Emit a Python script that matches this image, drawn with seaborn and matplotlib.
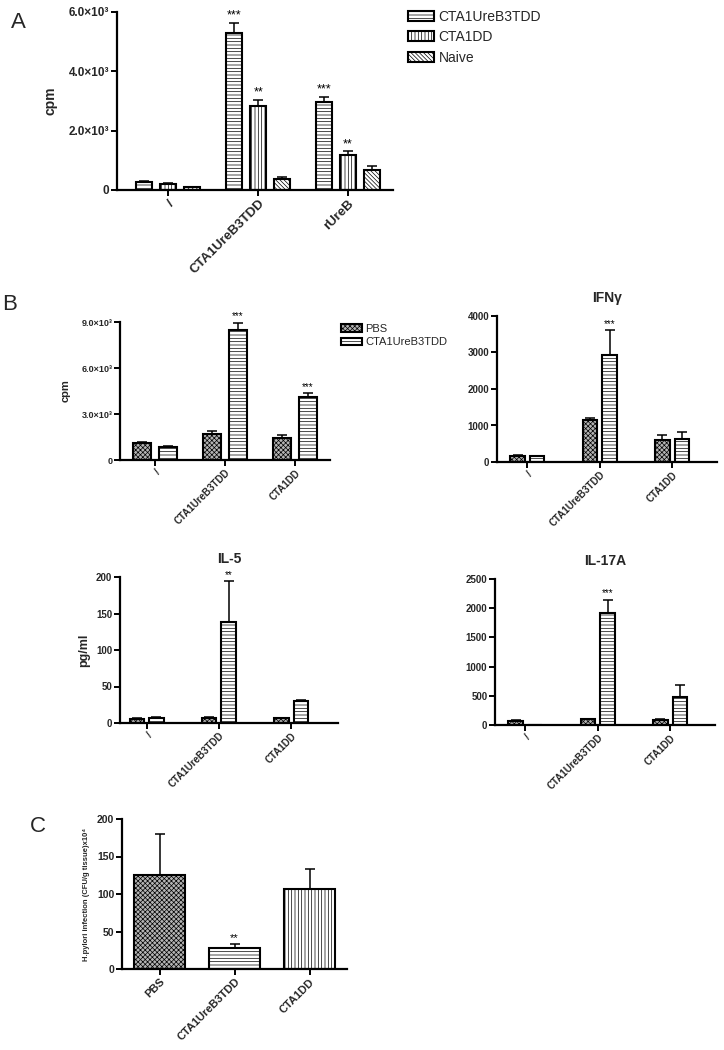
import numpy as np
import pandas as pd
import matplotlib
matplotlib.use("Agg")
import matplotlib.pyplot as plt
import seaborn as sns
from matplotlib.patches import Patch

# ---------------- data ----------------
# Panel A
A_groups = ["/", "CTA1UreB3TDD", "rUreB"]
A_series = ["CTA1UreB3TDD", "CTA1DD", "Naive"]
A_ure_vals = [270, 5280, 2960]
A_ure_err = [40, 360, 190]
A_dd_vals = [210, 2820, 1180]
A_dd_err = [30, 220, 120]
A_naive_vals = [95, 360, 660]
A_naive_err = [15, 80, 140]
A_ure_stars = ["", "***", "***"]
A_dd_stars = ["", "**", "**"]
A_naive_stars = ["", "", ""]
A_yticks = [0, 2000, 4000, 6000]
A_yticklabels = ["0", "2.0×10³", "4.0×10³", "6.0×10³"]

# Panel B
B_groups = ["/", "CTA1UreB3TDD", "CTA1DD"]
B_series = ["PBS", "CTA1UreB3TDD"]
# cpm
B1_pbs_vals = [1085, 1670, 1410]
B1_pbs_err = [100, 210, 210]
B1_cta_vals = [870, 8460, 4080]
B1_cta_err = [65, 480, 260]
B1_cta_stars = ["", "***", "***"]
B1_yticks = [0, 3000, 6000, 9000]
B1_yticklabels = ["0", "3.0×10³", "6.0×10³", "9.0×10³"]
# IFNγ
B2_pbs_vals = [174, 1144, 613]
B2_pbs_err = [20, 75, 140]
B2_cta_vals = [156, 2919, 631]
B2_cta_err = [15, 695, 185]
B2_cta_stars = ["", "***", ""]
B2_yticks = [0, 1000, 2000, 3000, 4000]
# IL-5
B3_pbs_vals = [6, 7, 6.4]
B3_pbs_err = [0.6, 0.6, 0.6]
B3_cta_vals = [7, 138.5, 30]
B3_cta_err = [0.6, 56, 2]
B3_cta_stars = ["", "**", ""]
B3_yticks = [0, 50, 100, 150, 200]
# IL-17A
B4_pbs_vals = [74, 103, 92]
B4_pbs_err = [8, 8, 8]
B4_cta_vals = [5, 1911, 480]
B4_cta_err = [0, 230, 212]
B4_cta_stars = ["", "***", ""]
B4_yticks = [0, 500, 1000, 1500, 2000, 2500]

# Panel C
C_groups = ["PBS", "CTA1UreB3TDD", "CTA1DD"]
C_vals = [125.6, 27.6, 106.9]
C_err = [54.4, 5.4, 26.7]
C_stars = ["", "**", ""]
C_yticks = [0, 50, 100, 150, 200]

# ---------------- style ----------------
sns.set_theme(style="ticks")
plt.rcParams["font.family"] = ["Liberation Sans", "DejaVu Sans"]
plt.rcParams["hatch.linewidth"] = 0.5
plt.rcParams["axes.linewidth"] = 1.6

STY_H = dict(fc="white", hatch="-----")
STY_V = dict(fc="white", hatch="|||||")
STY_D = dict(fc="white", hatch="\\\\\\\\\\\\\\\\")
STY_X = dict(fc="#b4b4b4", hatch="xxxxxxx")

fig = plt.figure(figsize=(7.24, 10.5), dpi=100)


def px_axes(left, top, right, bottom):
    W, H = 724.0, 1050.0
    return fig.add_axes([left / W, 1 - bottom / H, (right - left) / W, (bottom - top) / H])


def style_axes(ax, yticks, yticklabels, ylim, xlim, fs_y, fs_x):
    sns.despine(ax=ax)
    ax.set_ylim(*ylim)
    ax.set_xlim(*xlim)
    ax.set_yticks(yticks)
    ax.set_yticklabels(yticklabels, fontsize=fs_y, fontweight="bold")
    ax.tick_params(axis="both", direction="out", length=4, width=1.4, color="black", pad=1.5)
    for lab in ax.get_xticklabels():
        lab.set_rotation(45)
        lab.set_ha("right")
        lab.set_rotation_mode("anchor")
        lab.set_fontsize(fs_x)
        lab.set_fontweight("bold")
    ax.set_xlabel("")
    ax.set_ylabel("")
    ax.set_facecolor("white")
    for sp in ("left", "bottom"):
        ax.spines[sp].set_color("black")
        ax.spines[sp].set_linewidth(1.6)


def decorate(ax, container, style, errs, stars, star_fs):
    for bar, e, s in zip(container, errs, stars):
        bar.set_facecolor(style["fc"])
        bar.set_hatch(style["hatch"])
        bar.set_edgecolor("black")
        bar.set_linewidth(1.5)
        x = bar.get_x() + bar.get_width() / 2
        h = bar.get_height()
        if e > 0:
            ax.errorbar(x, h, yerr=[[0], [e]], fmt="none", ecolor="black",
                        elinewidth=1.1, capsize=3.5, capthick=1.1, zorder=1)
        if s:
            ax.annotate(s, xy=(x, h + e), xytext=(0, 1), textcoords="offset points",
                        ha="center", va="bottom", fontsize=star_fs, color="black")


def grouped(ax, groups, series, vals_list, errs_list, styles, stars_list, width, gap, star_fs):
    rows = []
    for s, vals in zip(series, vals_list):
        for g, v in zip(groups, vals):
            rows.append({"group": g, "series": s, "value": v})
    df = pd.DataFrame(rows)
    sns.barplot(data=df, x="group", y="value", hue="series", order=groups,
                hue_order=series, errorbar=None, width=width, gap=gap,
                legend=False, ax=ax, saturation=1, zorder=2)
    for cont, st, errs, stars in zip(ax.containers, styles, errs_list, stars_list):
        decorate(ax, cont, st, errs, stars, star_fs)


# ---------------- Panel A ----------------
axA = px_axes(117, 12, 393, 190)
grouped(axA, A_groups, A_series,
        [A_ure_vals, A_dd_vals, A_naive_vals],
        [A_ure_err, A_dd_err, A_naive_err],
        [STY_H, STY_V, STY_D],
        [A_ure_stars, A_dd_stars, A_naive_stars],
        width=0.8, gap=0.33, star_fs=9)
style_axes(axA, A_yticks, A_yticklabels, (0, 6000), (-0.57, 2.5), 8.5, 9.5)
axA.set_ylabel("cpm", fontsize=10, fontweight="bold", labelpad=8)
handlesA = [Patch(facecolor=s["fc"], hatch=s["hatch"], edgecolor="black", linewidth=1.5)
            for s in (STY_H, STY_V, STY_D)]
fig.legend(handlesA, A_series, loc="upper left", bbox_to_anchor=(408 / 724, 1 - 10 / 1050),
           frameon=False, fontsize=10, handlelength=1.9, handleheight=0.75,
           handletextpad=0.3, labelspacing=0.45, borderaxespad=0, borderpad=0)

# ---------------- Panel B1 (cpm) ----------------
axB1 = px_axes(120, 322, 330, 460)
grouped(axB1, B_groups, B_series,
        [B1_pbs_vals, B1_cta_vals], [B1_pbs_err, B1_cta_err],
        [STY_X, STY_H], [["", "", ""], B1_cta_stars],
        width=0.74, gap=0.3, star_fs=7)
style_axes(axB1, B1_yticks, B1_yticklabels, (0, 9000), (-0.5, 2.5), 6.5, 7)
axB1.set_ylabel("cpm", fontsize=8, fontweight="bold", labelpad=8)
handlesB = [Patch(facecolor=s["fc"], hatch=s["hatch"], edgecolor="black", linewidth=1.5)
            for s in (STY_X, STY_H)]
fig.legend(handlesB, B_series, loc="upper left", bbox_to_anchor=(341 / 724, 1 - 324 / 1050),
           frameon=False, fontsize=8, handlelength=1.9, handleheight=0.7,
           handletextpad=0.3, labelspacing=0.3, borderaxespad=0, borderpad=0)

# ---------------- Panel B2 (IFNγ) ----------------
axB2 = px_axes(497, 316, 717, 462)
grouped(axB2, B_groups, B_series,
        [B2_pbs_vals, B2_cta_vals], [B2_pbs_err, B2_cta_err],
        [STY_X, STY_H], [["", "", ""], B2_cta_stars],
        width=0.54, gap=0.25, star_fs=7)
style_axes(axB2, B2_yticks, [str(t) for t in B2_yticks], (0, 4000), (-0.42, 2.62), 7, 7)
axB2.set_title("IFNγ", fontsize=10, fontweight="bold", pad=10)

# ---------------- Panel B3 (IL-5) ----------------
axB3 = px_axes(120, 577, 338, 723)
grouped(axB3, B_groups, B_series,
        [B3_pbs_vals, B3_cta_vals], [B3_pbs_err, B3_cta_err],
        [STY_X, STY_H], [["", "", ""], B3_cta_stars],
        width=0.54, gap=0.25, star_fs=7)
style_axes(axB3, B3_yticks, [str(t) for t in B3_yticks], (0, 200), (-0.37, 2.65), 7, 7)
axB3.set_title("IL-5", fontsize=10, fontweight="bold", pad=10)
axB3.set_ylabel("pg/ml", fontsize=9, fontweight="bold", labelpad=4)

# ---------------- Panel B4 (IL-17A) ----------------
axB4 = px_axes(495, 579, 715, 725)
grouped(axB4, B_groups, B_series,
        [B4_pbs_vals, B4_cta_vals], [B4_pbs_err, B4_cta_err],
        [STY_X, STY_H], [["", "", ""], B4_cta_stars],
        width=0.54, gap=0.25, star_fs=7)
style_axes(axB4, B4_yticks, [str(t) for t in B4_yticks], (0, 2500), (-0.42, 2.62), 7, 7)
axB4.set_title("IL-17A", fontsize=10, fontweight="bold", pad=10)

# ---------------- Panel C ----------------
axC = px_axes(122, 819, 347, 969)
dfC = pd.DataFrame({"group": C_groups, "value": C_vals})
sns.barplot(data=dfC, x="group", y="value", order=C_groups, errorbar=None,
            width=0.68, ax=axC, color="white", saturation=1, zorder=2)
for bar, st, e, s in zip(axC.containers[0], [STY_X, STY_H, STY_V], C_err, C_stars):
    decorate(axC, [bar], st, [e], [s], 8)
style_axes(axC, C_yticks, [str(t) for t in C_yticks], (0, 200), (-0.5, 2.5), 7.5, 8)
axC.set_ylabel("H.pylori infection (CFU/g tissue)x10⁴", fontsize=5.5,
               fontweight="bold", labelpad=5)

# ---------------- panel letters ----------------
fig.text(18 / 724, 1 - 22 / 1050, "A", fontsize=16, ha="center", va="center")
fig.text(10 / 724, 1 - 304 / 1050, "B", fontsize=16, ha="center", va="center")
fig.text(38 / 724, 1 - 827 / 1050, "C", fontsize=16, ha="center", va="center")

fig.savefig("out.png", dpi=100, facecolor="white")
